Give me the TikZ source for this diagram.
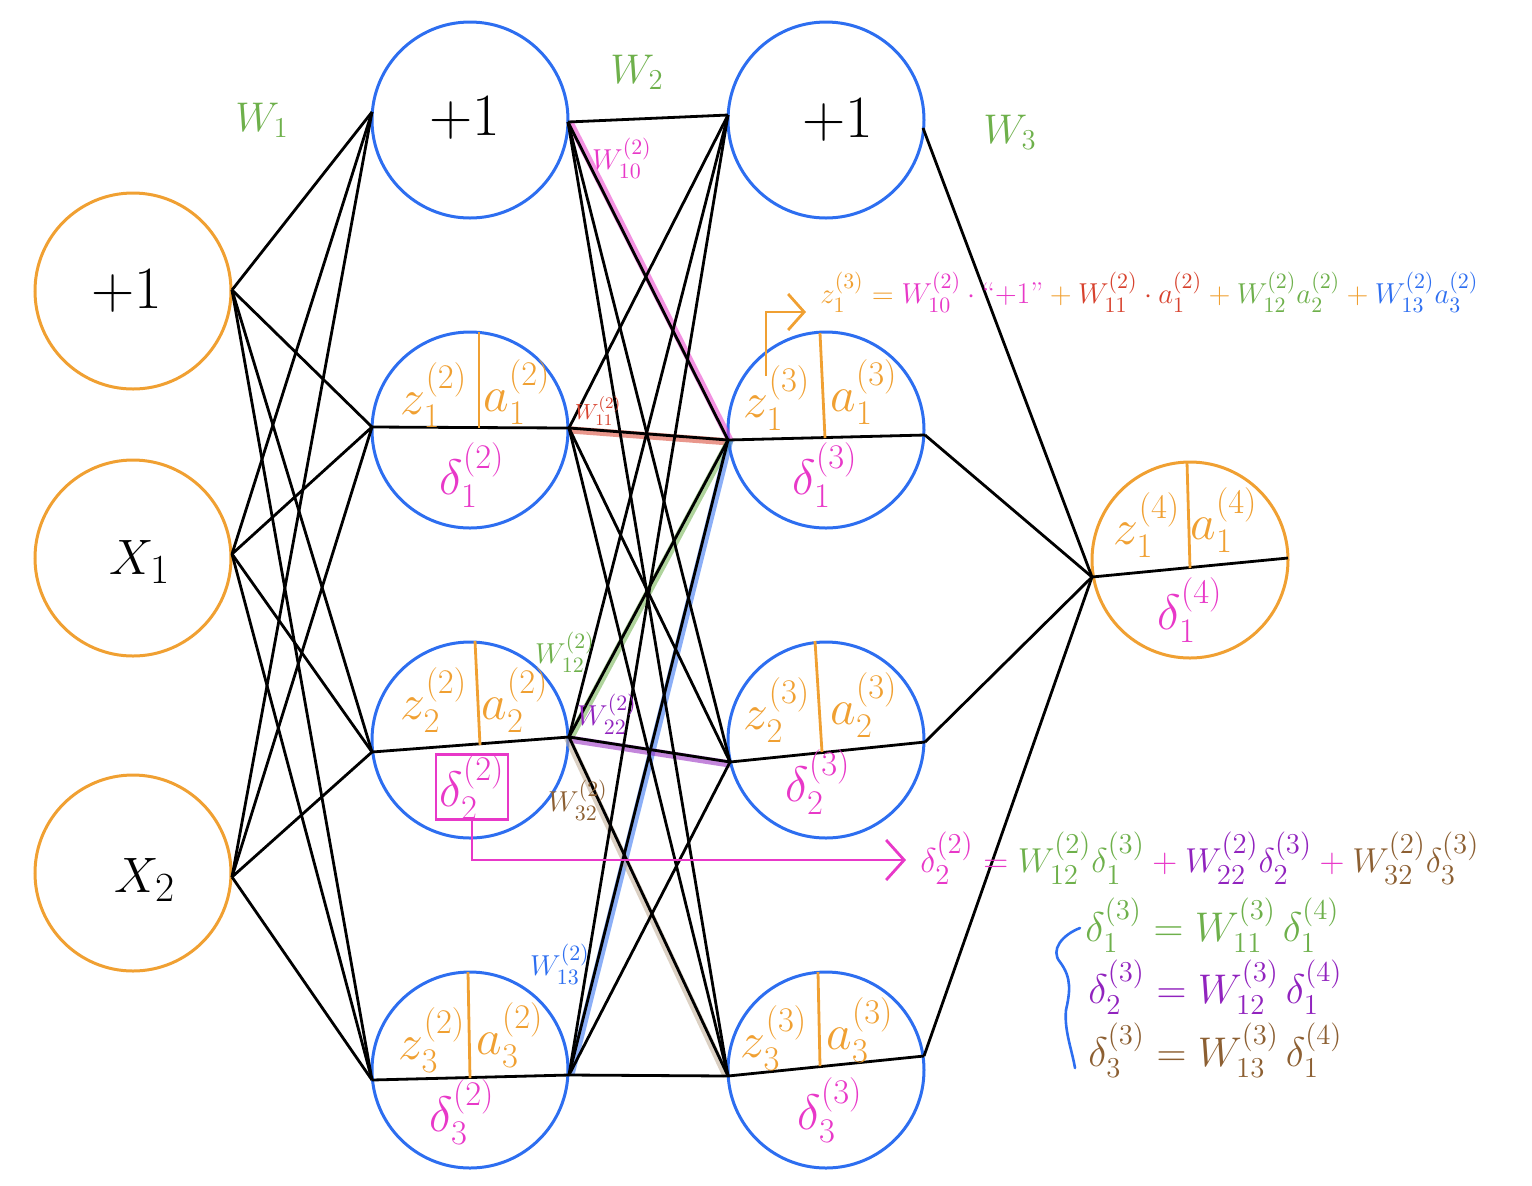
\documentclass[tikz,border=0pt]{standalone}
\usepackage{amsmath}
\usetikzlibrary{arrows.meta}
\definecolor{org}{RGB}{240,160,50}
\definecolor{blu}{RGB}{45,110,240}
\definecolor{pnk}{RGB}{232,56,200}
\definecolor{grn}{RGB}{110,176,75}
\definecolor{redd}{RGB}{215,65,45}
\definecolor{prp}{RGB}{145,35,190}
\definecolor{brn}{RGB}{140,95,50}
\definecolor{tann}{RGB}{190,170,145}
\newcommand\cbin[2]{\mathbin{\textcolor{#1}{#2}}}
\newcommand\crel[2]{\mathrel{\textcolor{#1}{#2}}}
\begin{document}
\begin{tikzpicture}[x=0.5pt,y=-0.5pt,
  neuron/.style={circle,line width=1.5pt,minimum size=98pt,inner sep=0pt},
  inorg/.style={neuron,draw=org},
  hidblu/.style={neuron,draw=blu},
  wire/.style={line width=1.4pt,black},
  hl/.style={line width=3.6pt,opacity=0.55},
  divid/.style={line width=1.4pt,org},
  lab/.style={inner sep=0pt,font=\fontsize{24}{28}\selectfont},
  wlab/.style={inner sep=0pt,font=\fontsize{15}{17}\selectfont},
  big/.style={inner sep=0pt,font=\fontsize{30}{36}\selectfont},
  layw/.style={inner sep=0pt,text=grn,font=\fontsize{22}{26}\selectfont},
  eqn/.style={inner sep=0pt,anchor=west},
]
\useasboundingbox (0,0) rectangle (1532,1185);

% neurons
\node[inorg] (i0) at (133,291) {};
\node[inorg] (i1) at (133,558) {};
\node[inorg] (i2) at (133,873) {};
\node[hidblu] (h0) at (470,120) {};
\node[hidblu] (h1) at (470,430) {};
\node[hidblu] (h2) at (470,740) {};
\node[hidblu] (h3) at (470,1070) {};
\node[hidblu] (g0) at (826,120) {};
\node[hidblu] (g1) at (826,430) {};
\node[hidblu] (g2) at (826,740) {};
\node[hidblu] (g3) at (826,1070) {};
\node[inorg] (o1) at (1190,560) {};

% ports
\coordinate (a0) at (232,290);
\coordinate (a1) at (232,554);
\coordinate (a2) at (232,877);
\coordinate (b0L) at (372,112);
\coordinate (b1L) at (372,427);
\coordinate (b2L) at (372,752);
\coordinate (b3L) at (372,1080);
\coordinate (b0R) at (568,122);
\coordinate (b1R) at (569,428);
\coordinate (b2R) at (569,737);
\coordinate (b3R) at (569,1075);
\coordinate (c0L) at (728,115);
\coordinate (c1L) at (728,440);
\coordinate (c2L) at (730,762);
\coordinate (c3L) at (728,1076);
\coordinate (c0R) at (923,128);
\coordinate (c1R) at (925,435);
\coordinate (c2R) at (925,742);
\coordinate (c3R) at (924,1056);
\coordinate (dL) at (1092,577);
\coordinate (dR) at (1288,558);

% highlights
\draw[hl,pnk,transform canvas={xshift=0.9pt}] (b0R) -- (c1L);
\draw[hl,redd,transform canvas={yshift=-0.9pt}] (b1R) -- (c1L);
\draw[hl,grn,transform canvas={xshift=0.9pt}] (b2R) -- (c1L);
\draw[hl,blu,transform canvas={xshift=0.9pt}] (b3R) -- (c1L);
\draw[hl,prp,transform canvas={yshift=-1pt}] (b2R) -- (c2L);
\draw[hl,tann,transform canvas={xshift=-0.9pt}] (b2R) -- (c3L);

% wires
\foreach \s in {a0,a1,a2}
  \foreach \t in {b0L,b1L,b2L,b3L}
    \draw[wire] (\s) -- (\t);
\foreach \s in {b0R,b1R,b2R,b3R}
  \foreach \t in {c0L,c1L,c2L,c3L}
    \draw[wire] (\s) -- (\t);
\foreach \s in {c0R,c1R,c2R,c3R}
  \draw[wire] (\s) -- (dL);

% split lines inside neurons
\draw[wire] (b1L) -- (b1R);
\draw[wire] (b2L) -- (b2R);
\draw[wire] (b3L) -- (b3R);
\draw[wire] (c1L) -- (c1R);
\draw[wire] (c2L) -- (c2R);
\draw[wire] (c3L) -- (c3R);
\draw[wire] (dL) -- (dR);
\draw[divid] (479,332) -- (479,428);
\draw[divid] (475,641) -- (480,745);
\draw[divid] (468,972) -- (470,1078);
\draw[divid] (820,333) -- (825,438);
\draw[divid] (815,641) -- (822,752);
\draw[divid] (818,972) -- (820,1066);
\draw[divid] (1187,462) -- (1190,568);

% neuron texts
\node[big] (t10) at (127,291) {+1};
\node[big] (t11) at (140,562) {$X_1$};
\node[big] (t12) at (145,880) {$X_2$};
\node[big] (t20) at (465,118) {+1};
\node[big] (t30) at (838,120) {+1};

\node[lab,text=org] (z12) at (434,395) {$z^{(2)}_1$};
\node[lab,text=org] (a12) at (517,392) {$a^{(2)}_1$};
\node[lab,text=pnk] (d12) at (472,475) {$\delta^{(2)}_1$};
\node[lab,text=org] (z22) at (434,700) {$z^{(2)}_2$};
\node[lab,text=org] (a22) at (515,700) {$a^{(2)}_2$};
\node[lab,text=pnk,draw=pnk,line width=1.3pt,minimum width=36pt,minimum height=32.5pt] (dbox) at (472,787) {$\delta^{(2)}_2$};
\node[lab,text=org] (z32) at (432,1040) {$z^{(2)}_3$};
\node[lab,text=org] (a32) at (510,1035) {$a^{(2)}_3$};
\node[lab,text=pnk] (d32) at (462,1112) {$\delta^{(2)}_3$};

\node[lab,text=org] (z13) at (777,398) {$z^{(3)}_1$};
\node[lab,text=org] (a13) at (864,392) {$a^{(3)}_1$};
\node[lab,text=pnk] (d13) at (825,475) {$\delta^{(3)}_1$};
\node[lab,text=org] (z23) at (777,710) {$z^{(3)}_2$};
\node[lab,text=org] (a23) at (864,705) {$a^{(3)}_2$};
\node[lab,text=pnk] (d23) at (818,782) {$\delta^{(3)}_2$};
\node[lab,text=org] (z33) at (774,1038) {$z^{(3)}_3$};
\node[lab,text=org] (a33) at (860,1030) {$a^{(3)}_3$};
\node[lab,text=pnk] (d33) at (830,1110) {$\delta^{(3)}_3$};

\node[lab,text=org] (z14) at (1147,525) {$z^{(4)}_1$};
\node[lab,text=org] (a14) at (1224,520) {$a^{(4)}_1$};
\node[lab,text=pnk] (d14) at (1190,610) {$\delta^{(4)}_1$};

% layer weight names
\node[layw] (W1) at (262,120) {$W_1$};
\node[layw] (W2) at (637,72) {$W_2$};
\node[layw] (W3) at (1010,132) {$W_3$};

% single weights
\node[wlab,text=pnk] (w10) at (622,158) {$W^{(2)}_{10}$};
\node[wlab,text=redd,font=\fontsize{11}{13}\selectfont] (w11) at (598,411) {$W^{(2)}_{11}$};
\node[wlab,text=grn] (w12) at (565,652) {$W^{(2)}_{12}$};
\node[wlab,text=prp] (w22) at (607,714) {$W^{(2)}_{22}$};
\node[wlab,text=brn] (w32) at (578,800) {$W^{(2)}_{32}$};
\node[wlab,text=blu] (w13) at (560,964) {$W^{(2)}_{13}$};

% equations
\node[eqn,font=\fontsize{15}{18}\selectfont] (eq1) at (820,292)
  {$\textcolor{org}{z^{(3)}_1}\crel{org}{=}\textcolor{pnk}{W^{(2)}_{10}\cdot\text{``+1''}}\cbin{org}{+}\textcolor{redd}{W^{(2)}_{11}\cdot a^{(2)}_1}\cbin{org}{+}\textcolor{grn}{W^{(2)}_{12}a^{(2)}_2}\cbin{org}{+}\textcolor{blu}{W^{(2)}_{13}a^{(2)}_3}$};
\node[eqn,font=\fontsize{19}{22}\selectfont] (eq2) at (920,858)
  {$\textcolor{pnk}{\delta^{(2)}_2}\crel{pnk}{=}\textcolor{grn}{W^{(2)}_{12}\delta^{(3)}_1}\cbin{pnk}{+}\textcolor{prp}{W^{(2)}_{22}\delta^{(3)}_2}\cbin{pnk}{+}\textcolor{brn}{W^{(2)}_{32}\delta^{(3)}_3}$};
\node[eqn,text=grn,font=\fontsize{19.5}{23}\selectfont] (eq3a) at (1085,925)
  {$\delta^{(3)}_1 = W^{(3)}_{11}\,\delta^{(4)}_1$};
\node[eqn,text=prp,font=\fontsize{19.5}{23}\selectfont] (eq3b) at (1088,987)
  {$\delta^{(3)}_2 = W^{(3)}_{12}\,\delta^{(4)}_1$};
\node[eqn,text=brn,font=\fontsize{19.5}{23}\selectfont] (eq3c) at (1088,1050)
  {$\delta^{(3)}_3 = W^{(3)}_{13}\,\delta^{(4)}_1$};

% arrows
\coordinate (zs) at (766,376);
\coordinate (ze) at (806,312);
\draw[org,line width=1.4pt,-{Straight Barb[length=8pt,width=18pt]}] (zs) |- (ze);
\coordinate (de) at (906,860);
\draw[pnk,line width=1.4pt,-{Straight Barb[length=9pt,width=20pt]}] (dbox.south) |- (de);

% brace
\draw[blu,line width=1.3pt,line cap=round] (1080,928) .. controls (1062,935) and (1050,950) .. (1060,962)
  .. controls (1072,978) and (1070,992) .. (1066,1010) .. controls (1064,1030) and (1072,1050) .. (1075,1068);
\end{tikzpicture}
\end{document}
